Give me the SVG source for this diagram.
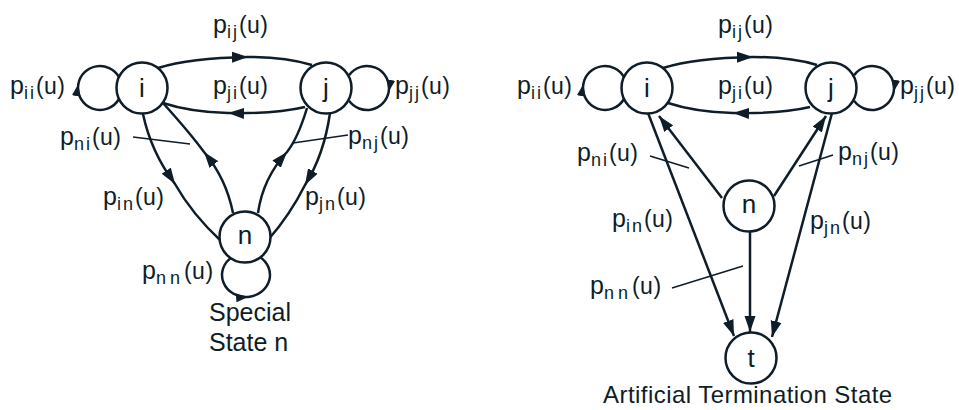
<svg xmlns="http://www.w3.org/2000/svg" width="959" height="410" viewBox="0 0 959 410">
<style>
  text { font-family: "Liberation Sans", Arial, Helvetica, sans-serif; fill: #0e1d27; }
  .lbl { font-size: 25px; }
  .s { font-size: 18px; letter-spacing: 2px; }
  .snn { font-size: 18px; letter-spacing: 4px; }
  .u { font-size: 23px; letter-spacing: 0.5px; }
  .nl { font-size: 26px; text-anchor: middle; }
  .cap { font-size: 25px; }
  .cap2 { font-size: 24px; letter-spacing: 0.45px; }
  .node circle { fill: #ffffff; stroke: #0e1d27; stroke-width: 2.5; }
  .edge { fill: none; stroke: #0e1d27; stroke-width: 2.5; }
  .lead { fill: none; stroke: #0e1d27; stroke-width: 1.5; }
  .mid { marker-mid: url(#ah); }
  .mids { marker-mid: url(#ahs); }
  .end { marker-end: url(#ah); }
</style>
<defs>
  <marker id="ah" markerUnits="userSpaceOnUse" markerWidth="18" markerHeight="12" refX="16" refY="6" orient="auto">
    <path d="M0,0.5 L16,6 L0,11.5 z" fill="#0e1d27"/>
  </marker>
  <marker id="ahs" markerUnits="userSpaceOnUse" markerWidth="13" markerHeight="10" refX="12" refY="5" orient="auto">
    <path d="M0,0.6 L12,5 L0,9.4 z" fill="#0e1d27"/>
  </marker>
</defs>

<g id="connectors">
  <!-- left diagram -->
  <path class="edge mid" d="M158,68 Q190,58 248,57 Q285,57 312,65"/>
  <path class="edge mid" d="M305,107 Q275,114 228,113 Q190,112 163,103"/>
  <path class="edge mids" d="M119,99 A22,22 0 0 1 78.3,84.2 A22,22 0 0 1 119,77"/>
  <path class="edge mids" d="M349,75.4 A22,22 0 0 1 388.7,91.8 A22,22 0 0 1 349,100.6"/>
  <path class="edge mids" d="M232.2,257 A24,22 0 0 0 248.1,296.9 A24,22 0 0 0 259.8,257"/>
  <path class="edge mid" d="M143,114 Q151,152 175,184 Q192,214 221,241"/>
  <path class="edge mid" d="M233,213 Q226,178 204,152 Q190,133 163,103"/>
  <path class="edge mid" d="M258,213 Q263,178 287,152 Q298,138 307,108"/>
  <path class="edge mid" d="M330,113 Q324,155 305,185 Q290,215 268,240"/>
  <line class="lead" x1="133" y1="137" x2="190" y2="144"/>
  <line class="lead" x1="293" y1="143" x2="348" y2="135"/>
  <!-- right diagram -->
  <path class="edge mid" d="M663,68 Q695,58 753,57 Q790,57 817,65"/>
  <path class="edge mid" d="M810,107 Q780,114 733,113 Q695,112 668,103"/>
  <path class="edge mids" d="M624,99 A22,22 0 0 1 583.3,84.2 A22,22 0 0 1 624,77"/>
  <path class="edge mids" d="M854,75.4 A22,22 0 0 1 893.7,91.8 A22,22 0 0 1 854,100.6"/>
  <path class="edge end" d="M722,198 L659,116"/>
  <path class="edge end" d="M774,196 L826,116"/>
  <path class="edge end" d="M648,113 L734,336"/>
  <path class="edge end" d="M832,113 L772,337"/>
  <path class="edge end" d="M750,232 L750,332"/>
  <line class="lead" x1="650" y1="156" x2="689" y2="168"/>
  <line class="lead" x1="799" y1="166" x2="833" y2="155"/>
  <line class="lead" x1="672" y1="288" x2="743" y2="266"/>
</g>

<g id="L-i" class="node"><circle cx="142" cy="88" r="25.5"/><text class="nl" x="142" y="97">i</text></g>
<g id="L-j" class="node"><circle cx="326" cy="88" r="25.5"/><text class="nl" x="326" y="97">j</text></g>
<g id="L-n" class="node"><circle cx="245" cy="237" r="25.5"/><text class="nl" x="245" y="244">n</text></g>

<g id="R-i" class="node"><circle cx="647" cy="88" r="25.5"/><text class="nl" x="647" y="97">i</text></g>
<g id="R-j" class="node"><circle cx="831" cy="88" r="25.5"/><text class="nl" x="831" y="97">j</text></g>
<g id="R-n" class="node"><circle cx="749" cy="206" r="25.5"/><text class="nl" x="749" y="213">n</text></g>
<g id="R-t" class="node"><circle cx="751" cy="358" r="25.5"/><text class="nl" x="751" y="367">t</text></g>

<g id="labels">
  <text class="lbl" x="213" y="33">p<tspan class="s" dy="5">ij</tspan><tspan class="u" dy="-5">(u)</tspan></text>
  <text class="lbl" x="10" y="94">p<tspan class="s" dy="5">ii</tspan><tspan class="u" dy="-5">(u)</tspan></text>
  <text class="lbl" x="213" y="94">p<tspan class="s" dy="5">ji</tspan><tspan class="u" dy="-5">(u)</tspan></text>
  <text class="lbl" x="395" y="94">p<tspan class="s" dy="5">jj</tspan><tspan class="u" dy="-5">(u)</tspan></text>
  <text class="lbl" x="60" y="145">p<tspan class="s" dy="5">ni</tspan><tspan class="u" dy="-5">(u)</tspan></text>
  <text class="lbl" x="348" y="144">p<tspan class="s" dy="5">nj</tspan><tspan class="u" dy="-5">(u)</tspan></text>
  <text class="lbl" x="103" y="205">p<tspan class="s" dy="5">in</tspan><tspan class="u" dy="-5">(u)</tspan></text>
  <text class="lbl" x="305" y="205">p<tspan class="s" dy="5">jn</tspan><tspan class="u" dy="-5">(u)</tspan></text>
  <text class="lbl" x="142" y="279">p<tspan class="snn" dy="5">nn</tspan><tspan class="u" dy="-5">(u)</tspan></text>
  <text class="cap" x="209" y="321">Special</text>
  <text class="cap" x="209" y="351">State n</text>

  <text class="lbl" x="718" y="33">p<tspan class="s" dy="5">ij</tspan><tspan class="u" dy="-5">(u)</tspan></text>
  <text class="lbl" x="517" y="94">p<tspan class="s" dy="5">ii</tspan><tspan class="u" dy="-5">(u)</tspan></text>
  <text class="lbl" x="718" y="94">p<tspan class="s" dy="5">ji</tspan><tspan class="u" dy="-5">(u)</tspan></text>
  <text class="lbl" x="900" y="94">p<tspan class="s" dy="5">jj</tspan><tspan class="u" dy="-5">(u)</tspan></text>
  <text class="lbl" x="577" y="161">p<tspan class="s" dy="5">ni</tspan><tspan class="u" dy="-5">(u)</tspan></text>
  <text class="lbl" x="838" y="160">p<tspan class="s" dy="5">nj</tspan><tspan class="u" dy="-5">(u)</tspan></text>
  <text class="lbl" x="612" y="227">p<tspan class="s" dy="5">in</tspan><tspan class="u" dy="-5">(u)</tspan></text>
  <text class="lbl" x="810" y="229">p<tspan class="s" dy="5">jn</tspan><tspan class="u" dy="-5">(u)</tspan></text>
  <text class="lbl" x="590" y="294">p<tspan class="snn" dy="5">nn</tspan><tspan class="u" dy="-5">(u)</tspan></text>
  <text class="cap2" x="603" y="403">Artificial Termination State</text>
</g>
</svg>
